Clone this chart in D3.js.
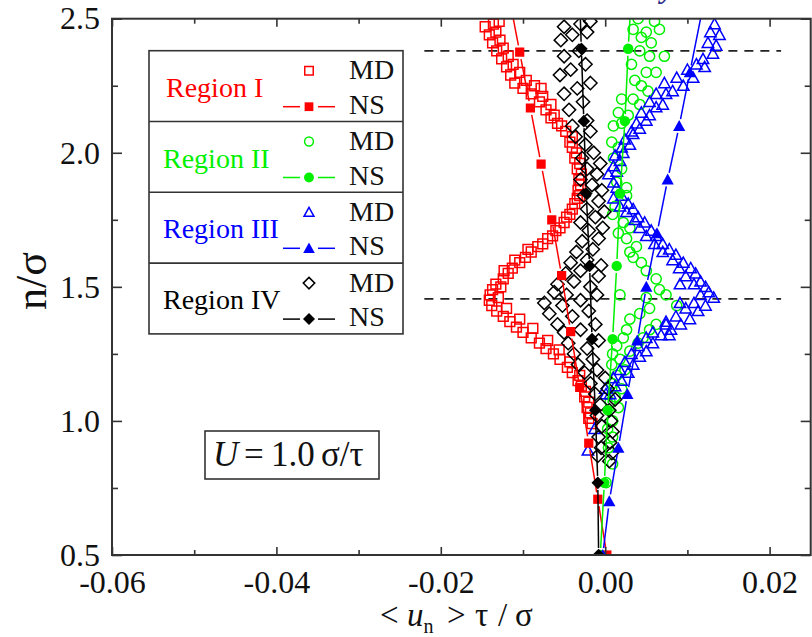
<!DOCTYPE html>
<html>
<head>
<meta charset="utf-8">
<script src="https://cdn.jsdelivr.net/npm/d3@7"></script>
<style>
  html, body { margin: 0; padding: 0; background: #fff; }
  svg { display: block; }
  text { font-family: "Liberation Serif", "Times New Roman", serif; }
</style>
</head>
<body>
<svg id="chart" width="812" height="637"></svg>
<script>
// ---------------- DATA ----------------
const xDomain = [-0.06, 0.025];
const yDomain = [0.5, 2.5];
const xMajorTicks = [-0.06, -0.04, -0.02, 0.0, 0.02];
const xMinorTicks = [-0.05, -0.03, -0.01, 0.01];
const yMajorTicks = [0.5, 1.0, 1.5, 2.0, 2.5];
const yMinorTicks = [0.75, 1.25, 1.75, 2.25];
const dashedLevels = [2.38, 1.455];
const dashedXRange = [-0.022, 0.0214];

const regionNames = ["Region I", "Region II", "Region III", "Region IV"];
const regionColors = ["#ff0000", "#00f000", "#0000ff", "#000000"];
const regionSymbols = ["square", "circle", "triangle", "diamond"];

// NS series (n values and <u_n> values)
const nsRegion1N = [0.5, 0.708, 0.917, 1.125, 1.333, 1.542, 1.75, 1.958, 2.167, 2.375, 2.583];
const nsRegion1X = [0.0002, -0.0009, -0.0020, -0.0031, -0.0042, -0.0053, -0.0065, -0.0078, -0.0091, -0.0104, -0.0117];
const nsRegion2N = [0.5, 0.769, 1.04, 1.305, 1.578, 1.848, 2.118, 2.388, 2.658];
const nsRegion2X = [-0.0006, -0.0001, 0.0003, 0.0009, 0.0014, 0.0018, 0.0024, 0.0028, 0.0033];
const nsRegion3N = [0.5, 0.7, 0.9, 1.1, 1.3, 1.5, 1.7, 1.9, 2.1, 2.3, 2.7];
const nsRegion3X = [-0.0003, 0.0005, 0.0016, 0.0027, 0.0039, 0.0050, 0.0063, 0.0076, 0.0090, 0.0103, 0.0129];
const nsRegion4N = [0.5, 0.769, 1.04, 1.305, 1.578, 1.848, 2.118, 2.388, 2.658];
const nsRegion4X = [-0.0008, -0.0009, -0.0012, -0.0016, -0.0019, -0.0023, -0.0026, -0.0029, -0.0032];

// MD series: [<u_n>, n]
const mdRegion1 = [
  [-0.0016,0.99],[-0.0020,1.01],[-0.0018,1.03],[-0.0022,1.05],[-0.0020,1.07],[-0.0025,1.09],[-0.0024,1.11],
  [-0.0029,1.13],[-0.0033,1.15],[-0.0031,1.17],[-0.0040,1.18],[-0.0046,1.20],[-0.0043,1.22],[-0.0055,1.23],
  [-0.0063,1.25],[-0.0056,1.265],[-0.0072,1.27],[-0.0080,1.29],[-0.0070,1.30],[-0.0090,1.31],[-0.0100,1.33],
  [-0.0088,1.345],[-0.0108,1.35],[-0.0116,1.37],[-0.0104,1.38],[-0.0124,1.39],[-0.0132,1.41],[-0.0120,1.42],
  [-0.0138,1.43],[-0.0141,1.45],[-0.0130,1.46],[-0.0140,1.47],[-0.0137,1.49],[-0.0127,1.50],[-0.0133,1.51],
  [-0.0124,1.53],[-0.0118,1.55],[-0.0123,1.56],[-0.0113,1.57],[-0.0104,1.59],[-0.0110,1.60],[-0.0097,1.61],
  [-0.0090,1.63],[-0.0094,1.64],[-0.0082,1.65],[-0.0076,1.66],[-0.0070,1.68],[-0.0064,1.69],[-0.0060,1.71],
  [-0.0055,1.72],[-0.0050,1.74],[-0.0047,1.76],[-0.0043,1.77],[-0.0040,1.79],[-0.0037,1.81],[-0.0034,1.83],
  [-0.0031,1.84],[-0.0033,1.86],[-0.0030,1.88],[-0.0032,1.90],[-0.0029,1.92],[-0.0034,1.94],[-0.0031,1.96],
  [-0.0037,1.98],[-0.0035,2.00],[-0.0040,2.02],[-0.0043,2.04],[-0.0040,2.06],[-0.0048,2.08],[-0.0053,2.10],
  [-0.0058,2.11],[-0.0066,2.13],[-0.0062,2.14],[-0.0072,2.16],[-0.0066,2.18],[-0.0080,2.19],[-0.0076,2.21],
  [-0.0090,2.22],[-0.0100,2.24],[-0.0086,2.25],[-0.0078,2.24],[-0.0110,2.26],[-0.0096,2.27],[-0.0115,2.29],
  [-0.0104,2.30],[-0.0120,2.32],[-0.0112,2.33],[-0.0126,2.35],[-0.0118,2.36],[-0.0132,2.38],[-0.0124,2.39],
  [-0.0137,2.41],[-0.0128,2.42],[-0.0141,2.44],[-0.0133,2.45],[-0.0146,2.47],[-0.0136,2.48],[-0.0129,2.49]
];
const mdRegion2 = [
  [0.0001,0.77],[0.0009,0.84],[0.0004,0.90],[0.0009,0.94],[0.0003,0.97],[0.0009,1.00],[0.0016,1.05],
  [0.0006,1.07],[0.0012,1.09],[0.0020,1.12],[0.0008,1.14],[0.0014,1.17],[0.0024,1.19],[0.0008,1.21],
  [0.0018,1.23],[0.0009,1.25],[0.0030,1.26],[0.0014,1.28],[0.0040,1.29],[0.0022,1.31],[0.0046,1.31],
  [0.0026,1.34],[0.0054,1.34],[0.0030,1.38],[0.0062,1.36],[0.0042,1.40],[0.0054,1.42],[0.0087,1.43],
  [0.0018,1.47],[0.0066,1.49],[0.0074,1.47],[0.0050,1.46],[0.0062,1.53],[0.0050,1.56],[0.0044,1.59],
  [0.0034,1.61],[0.0030,1.63],[0.0038,1.65],[0.0026,1.68],[0.0016,1.70],[0.0030,1.72],[0.0022,1.74],
  [0.0009,1.77],[0.0012,1.80],[0.0026,1.84],[0.0026,1.87],[0.0014,1.89],[0.0020,1.94],[0.0010,1.98],
  [0.0016,2.02],[0.0008,2.04],[0.0010,2.10],[0.0020,2.11],[0.0028,2.14],[0.0016,2.15],[0.0042,2.18],
  [0.0034,2.20],[0.0020,2.20],[0.0052,2.23],[0.0036,2.27],[0.0044,2.25],[0.0050,2.30],[0.0062,2.30],
  [0.0032,2.33],[0.0054,2.36],[0.0042,2.38],[0.0072,2.36],[0.0056,2.41],[0.0044,2.43],[0.0034,2.46],
  [0.0050,2.45],[0.0066,2.46],[0.0060,2.49],[0.0040,2.50]
];
const mdRegion3 = [
  [-0.0021,0.89],[-0.0013,0.97],[0.0001,1.10],[0.0006,1.10],[0.0012,1.13],[0.0020,1.15],[0.0028,1.18],
  [0.0034,1.21],[0.0042,1.24],[0.0050,1.26],[0.0058,1.29],[0.0068,1.32],[0.0080,1.34],[0.0092,1.36],
  [0.0103,1.38],[0.0113,1.41],[0.0122,1.43],[0.0132,1.46],[0.0126,1.48],[0.0122,1.50],[0.0116,1.52],
  [0.0110,1.55],[0.0104,1.57],[0.0095,1.59],[0.0086,1.62],[0.0078,1.64],[0.0070,1.66],[0.0062,1.69],
  [0.0056,1.71],[0.0048,1.74],[0.0040,1.76],[0.0034,1.79],[0.0028,1.81],[0.0020,1.84],[0.0014,1.87],
  [0.0000,1.12],[0.0010,1.16],[0.0018,1.19],[0.0024,1.22],[0.0032,1.25],[0.0040,1.28],[0.0050,1.31],
  [0.0058,1.33],[0.0074,1.36],[0.0086,1.39],[0.0098,1.42],[0.0108,1.44],[0.0116,1.47],[0.0108,1.51],
  [0.0098,1.54],[0.0090,1.57],[0.0082,1.60],[0.0070,1.63],[0.0060,1.66],[0.0050,1.69],[0.0042,1.72],
  [0.0036,1.75],[0.0026,1.78],[0.0018,1.80],[0.0010,1.83],[0.0091,1.44],[0.0091,1.51],[0.0074,1.37],
  [0.0078,1.32],[0.0010,1.89],[0.0014,1.93],[0.0018,1.97],[0.0022,2.00],[0.0030,2.03],[0.0034,2.07],
  [0.0042,2.09],[0.0050,2.12],[0.0054,2.14],[0.0062,2.17],[0.0070,2.18],[0.0074,2.22],[0.0082,2.23],
  [0.0095,2.25],[0.0107,2.28],[0.0121,2.32],[0.0131,2.37],[0.0135,2.40],[0.0139,2.44],[0.0133,2.48],
  [0.0004,1.92],[0.0010,1.95],[0.0012,1.99],[0.0020,2.02],[0.0024,2.05],[0.0032,2.08],[0.0038,2.11],
  [0.0044,2.15],[0.0054,2.19],[0.0062,2.22],[0.0072,2.26],[0.0087,2.28],[0.0100,2.31],[0.0111,2.33],
  [0.0119,2.35],[0.0125,2.41],[0.0128,2.45]
];
const mdRegion4 = [
  [0.0005,0.85],[-0.0009,0.87],[0.0008,0.88],[-0.0005,0.90],[0.0006,0.92],[-0.0008,0.94],[0.0009,0.96],
  [-0.0004,0.98],[0.0007,1.00],[-0.0010,1.02],[0.0005,1.04],[-0.0006,1.06],[0.0012,1.08],[-0.0012,1.10],
  [0.0003,1.12],[-0.0018,1.14],[0.0000,1.16],[-0.0025,1.18],[-0.0010,1.19],[-0.0033,1.21],[-0.0015,1.23],
  [-0.0038,1.25],[-0.0022,1.27],[-0.0045,1.29],[-0.0008,1.30],[-0.0050,1.33],[-0.0030,1.34],[-0.0012,1.36],
  [-0.0058,1.36],[-0.0068,1.40],[-0.0040,1.39],[-0.0020,1.41],[-0.0074,1.44],[-0.0052,1.43],[-0.0030,1.45],
  [-0.0010,1.47],[-0.0062,1.48],[-0.0047,1.47],[-0.0058,1.51],[-0.0038,1.52],[-0.0018,1.50],[-0.0048,1.55],
  [-0.0030,1.56],[-0.0008,1.54],[-0.0042,1.59],[-0.0022,1.60],[-0.0005,1.58],[-0.0035,1.63],[-0.0015,1.64],
  [-0.0028,1.67],[-0.0008,1.68],[-0.0020,1.71],[-0.0003,1.72],[-0.0030,1.74],[-0.0012,1.76],[-0.0001,1.78],
  [-0.0022,1.79],[-0.0008,1.82],[-0.0026,1.84],[-0.0004,1.86],[-0.0016,1.88],[-0.0030,1.90],[-0.0010,1.92],
  [-0.0022,1.94],[-0.0006,1.96],[-0.0028,1.98],[-0.0014,2.00],[-0.0024,2.03],[-0.0036,2.06],[-0.0018,2.08],
  [-0.0040,2.10],[-0.0022,2.12],[-0.0044,2.16],[-0.0027,2.19],[-0.0050,2.22],[-0.0034,2.24],[-0.0018,2.26],
  [-0.0055,2.29],[-0.0042,2.31],[-0.0024,2.33],[-0.0050,2.36],[-0.0032,2.38],[-0.0054,2.42],[-0.0040,2.44],
  [-0.0022,2.45],[-0.0050,2.47],[-0.0030,2.48],[-0.0018,2.49]
];

const mdSeries = [mdRegion1, mdRegion2, mdRegion3, mdRegion4];
const nsSeries = [
  d3.zip(nsRegion1X, nsRegion1N),
  d3.zip(nsRegion2X, nsRegion2N),
  d3.zip(nsRegion3X, nsRegion3N),
  d3.zip(nsRegion4X, nsRegion4N)
];

// ---------------- LAYOUT ----------------
const W = 812, H = 637;
const plot = { left: 112, right: 810.7, top: 18.7, bottom: 555 };
const axisColor = "#333";
const svg = d3.select("#chart");
svg.append("rect").attr("width", W).attr("height", H).attr("fill", "#fff");

const x = d3.scaleLinear().domain(xDomain).range([plot.left, plot.right]);
const y = d3.scaleLinear().domain(yDomain).range([plot.bottom, plot.top]);

// stray fragment at top from page
svg.append("text").attr("x", 661).attr("y", -2).attr("font-size", 30)
  .attr("font-style", "italic").attr("font-weight", "bold").attr("fill", "#2e2e8a").text("y");

// clip
svg.append("clipPath").attr("id", "clip").append("rect")
  .attr("x", plot.left).attr("y", plot.top)
  .attr("width", plot.right - plot.left).attr("height", plot.bottom - plot.top);

// symbols
const diamondType = {
  draw(ctx, size) {
    const r = Math.sqrt(size / 2);
    ctx.moveTo(0, -r); ctx.lineTo(r, 0); ctx.lineTo(0, r); ctx.lineTo(-r, 0); ctx.closePath();
  }
};
const triangleType = {
  draw(ctx, size) {
    const s = Math.sqrt(size); // width
    const h = s * 0.9;
    ctx.moveTo(0, -h * 0.55); ctx.lineTo(s / 2, h * 0.45); ctx.lineTo(-s / 2, h * 0.45); ctx.closePath();
  }
};
const symTypes = { square: d3.symbolSquare, circle: d3.symbolCircle, triangle: triangleType, diamond: diamondType };
const mdSizes = { square: 96, circle: 82, triangle: 130, diamond: 88 };
const nsSizes = { square: 85, circle: 85, triangle: 150, diamond: 80 };

const dataG = svg.append("g").attr("clip-path", "url(#clip)");

// dashed lines
dataG.selectAll("line.dash").data(dashedLevels).join("line")
  .attr("x1", x(dashedXRange[0])).attr("x2", x(dashedXRange[1]))
  .attr("y1", d => y(d)).attr("y2", d => y(d))
  .attr("stroke", "#222").attr("stroke-width", 1.6).attr("stroke-dasharray", "9,7");

// MD open markers
mdSeries.forEach((pts, i) => {
  const sym = regionSymbols[i];
  const gen = d3.symbol().type(symTypes[sym]).size(mdSizes[sym]);
  dataG.append("g").selectAll("path").data(pts).join("path")
    .attr("transform", d => `translate(${x(d[0])},${y(d[1])})`)
    .attr("d", gen())
    .attr("fill", "none").attr("stroke", regionColors[i]).attr("stroke-width", 1.5);
});

// NS lines with gaps + filled markers
const gap = 7;
nsSeries.forEach((pts, i) => {
  const segs = [];
  for (let k = 0; k < pts.length - 1; k++) {
    const x1 = x(pts[k][0]), y1 = y(pts[k][1]), x2 = x(pts[k + 1][0]), y2 = y(pts[k + 1][1]);
    const L = Math.hypot(x2 - x1, y2 - y1);
    if (L > 2 * gap) {
      const ux = (x2 - x1) / L, uy = (y2 - y1) / L;
      segs.push([x1 + ux * gap, y1 + uy * gap, x2 - ux * gap, y2 - uy * gap]);
    }
  }
  dataG.append("g").selectAll("line").data(segs).join("line")
    .attr("x1", d => d[0]).attr("y1", d => d[1]).attr("x2", d => d[2]).attr("y2", d => d[3])
    .attr("stroke", regionColors[i]).attr("stroke-width", 1.5);
  const sym = regionSymbols[i];
  const gen = d3.symbol().type(symTypes[sym]).size(nsSizes[sym]);
  dataG.append("g").selectAll("path").data(pts).join("path")
    .attr("transform", d => `translate(${x(d[0])},${y(d[1])})`)
    .attr("d", gen()).attr("fill", regionColors[i]).attr("stroke", "none");
});

// ---------------- AXES ----------------
const fmtX = d => d3.format(".2f")(d).replace("\u2212", "-");
const fmtY = d => d3.format(".1f")(d);
const tickFont = 32;

function styleAxis(g) {
  g.select(".domain").remove();
  g.selectAll(".tick line").attr("stroke", axisColor).attr("stroke-width", 1.6);
  g.selectAll(".tick text").attr("fill", "#111").attr("font-size", tickFont)
    .attr("font-family", "'Liberation Serif', 'Times New Roman', serif");
}

svg.append("g").attr("transform", `translate(0,${plot.bottom})`)
  .call(d3.axisBottom(x).tickValues(xMajorTicks).tickSize(-8).tickPadding(15).tickFormat(fmtX)).call(styleAxis);
svg.append("g").attr("transform", `translate(0,${plot.bottom})`)
  .call(d3.axisBottom(x).tickValues(xMinorTicks).tickSize(-5).tickFormat("")).call(styleAxis);
svg.append("g").attr("transform", `translate(0,${plot.top})`)
  .call(d3.axisTop(x).tickValues(xMajorTicks).tickSize(-8).tickFormat("")).call(styleAxis);
svg.append("g").attr("transform", `translate(0,${plot.top})`)
  .call(d3.axisTop(x).tickValues(xMinorTicks).tickSize(-5).tickFormat("")).call(styleAxis);

svg.append("g").attr("transform", `translate(${plot.left},0)`)
  .call(d3.axisLeft(y).tickValues(yMajorTicks).tickSize(-10).tickPadding(12).tickFormat(fmtY)).call(styleAxis);
svg.append("g").attr("transform", `translate(${plot.left},0)`)
  .call(d3.axisLeft(y).tickValues(yMinorTicks).tickSize(-6).tickFormat("")).call(styleAxis);
svg.append("g").attr("transform", `translate(${plot.right},0)`)
  .call(d3.axisRight(y).tickValues(yMajorTicks).tickSize(-10).tickFormat("")).call(styleAxis);
svg.append("g").attr("transform", `translate(${plot.right},0)`)
  .call(d3.axisRight(y).tickValues(yMinorTicks).tickSize(-6).tickFormat("")).call(styleAxis);

// frame
svg.append("rect").attr("x", plot.left).attr("y", plot.top)
  .attr("width", plot.right - plot.left).attr("height", plot.bottom - plot.top)
  .attr("fill", "none").attr("stroke", axisColor).attr("stroke-width", 2);

// axis titles
const xt = svg.append("text").attr("y", 626).attr("font-size", 33).attr("fill", "#111");
xt.append("tspan").attr("x", 380).text("<");
xt.append("tspan").attr("x", 407).attr("font-style", "italic").text("u");
xt.append("tspan").attr("font-size", 20).attr("dy", 7).text("n");
xt.append("tspan").attr("x", 447).attr("dy", -7).text(">");
xt.append("tspan").attr("x", 475).text("τ");
xt.append("tspan").attr("x", 498).text("/");
xt.append("tspan").attr("x", 515).text("σ");

svg.append("text").attr("transform", "translate(46,281) rotate(-90)")
  .attr("text-anchor", "middle").attr("font-size", 44).attr("fill", "#111").text("n/σ");

// U box
svg.append("rect").attr("x", 205).attr("y", 431).attr("width", 174).attr("height", 48)
  .attr("fill", "#fff").attr("stroke", axisColor).attr("stroke-width", 1.6);
const ut = svg.append("text").attr("y", 466).attr("font-size", 35).attr("fill", "#111");
ut.append("tspan").attr("x", 213).attr("font-style", "italic").text("U");
ut.append("tspan").attr("x", 244).text("=");
ut.append("tspan").attr("x", 271).text("1.0");
ut.append("tspan").attr("x", 321).text("σ/τ");

// ---------------- LEGEND ----------------
const leg = { x0: 149, x1: 403, y0: 50.7, rowH: 70.8 };
const lg = svg.append("g");
lg.append("rect").attr("x", leg.x0).attr("y", leg.y0).attr("width", leg.x1 - leg.x0)
  .attr("height", leg.rowH * 4).attr("fill", "#fff").attr("stroke", axisColor).attr("stroke-width", 1.6);
regionNames.forEach((name, i) => {
  const top = leg.y0 + i * leg.rowH;
  if (i > 0) lg.append("line").attr("x1", leg.x0).attr("x2", leg.x1).attr("y1", top).attr("y2", top)
    .attr("stroke", axisColor).attr("stroke-width", 1.6);
  lg.append("text").attr("x", i === 0 ? 166 : 163).attr("y", top + 46).attr("font-size", 28)
    .attr("fill", regionColors[i]).text(name);
  const sym = regionSymbols[i];
  lg.append("path").attr("transform", `translate(309,${top + 20})`)
    .attr("d", d3.symbol().type(symTypes[sym]).size(mdSizes[sym] * 0.75)())
    .attr("fill", "none").attr("stroke", regionColors[i]).attr("stroke-width", 1.5);
  lg.append("line").attr("x1", 283).attr("x2", 300).attr("y1", top + 56).attr("y2", top + 56)
    .attr("stroke", regionColors[i]).attr("stroke-width", 1.5);
  lg.append("line").attr("x1", 318).attr("x2", 335).attr("y1", top + 56).attr("y2", top + 56)
    .attr("stroke", regionColors[i]).attr("stroke-width", 1.5);
  lg.append("path").attr("transform", `translate(309,${top + 56})`)
    .attr("d", d3.symbol().type(symTypes[sym]).size(nsSizes[sym] * 0.9)())
    .attr("fill", regionColors[i]);
  lg.append("text").attr("x", 349).attr("y", top + 28.5).attr("font-size", 28).attr("fill", "#111").text("MD");
  lg.append("text").attr("x", 349).attr("y", top + 63).attr("font-size", 28).attr("fill", "#111").text("NS");
});
</script>
</body>
</html>
